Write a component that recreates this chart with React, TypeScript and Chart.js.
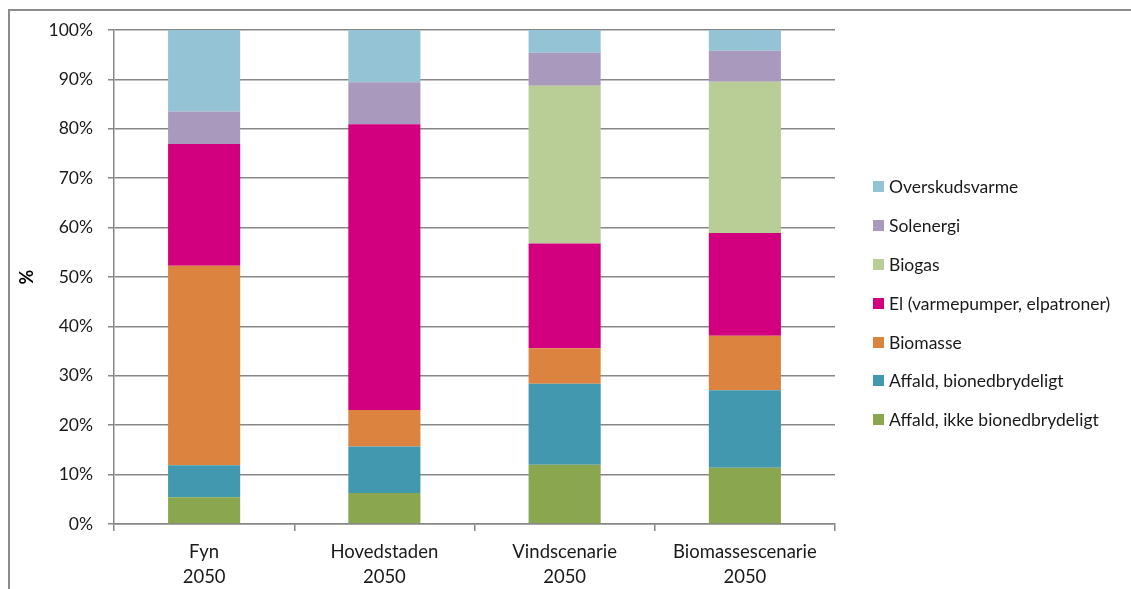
import React, { useEffect, useRef } from "react";
import { Chart, registerables } from "chart.js";

Chart.register(...registerables);

const categories: string[][] = [
  ["Fyn", "2050"],
  ["Hovedstaden", "2050"],
  ["Vindscenarie", "2050"],
  ["Biomassescenarie", "2050"],
];

const affaldIkkeBio = [5.4, 6.3, 12.0, 11.4];
const affaldBio = [6.5, 9.4, 16.4, 15.7];
const biomasse = [40.4, 7.4, 7.2, 11.0];
const el = [24.6, 57.8, 21.2, 20.8];
const biogas = [0, 0, 31.9, 30.6];
const solenergi = [6.6, 8.5, 6.7, 6.3];
const overskudsvarme = [16.5, 10.6, 4.6, 4.2];

const yTicks = [0, 10, 20, 30, 40, 50, 60, 70, 80, 90, 100];

const seriesList = [
  { label: "Affald, ikke bionedbrydeligt", data: affaldIkkeBio, color: "#8AA64E" },
  { label: "Affald, bionedbrydeligt", data: affaldBio, color: "#4298AF" },
  { label: "Biomasse", data: biomasse, color: "#DC8340" },
  { label: "El (varmepumper, elpatroner)", data: el, color: "#D2007E" },
  { label: "Biogas", data: biogas, color: "#B9CD96" },
  { label: "Solenergi", data: solenergi, color: "#A99ABD" },
  { label: "Overskudsvarme", data: overskudsvarme, color: "#93C3D5" },
];

const FONT = "Lato, 'Open Sans', sans-serif";
const GRID = "#878787";

export default function App() {
  const ref = useRef<HTMLCanvasElement | null>(null);

  useEffect(() => {
    if (!ref.current) return;
    const chart = new Chart(ref.current, {
      type: "bar",
      data: {
        labels: categories,
        datasets: seriesList.map((s) => ({
          label: s.label,
          data: s.data,
          backgroundColor: s.color,
          borderWidth: 0,
          categoryPercentage: 1,
          barPercentage: 0.4,
        })),
      },
      options: {
        responsive: false,
        animation: false,
        devicePixelRatio: 1,
        layout: { padding: { left: 0, top: 30, right: 296, bottom: 0 } },
        plugins: { legend: { display: false }, tooltip: { enabled: false } },
        scales: {
          x: {
            stacked: true,
            grid: {
              display: true,
              drawOnChartArea: false,
              drawTicks: true,
              tickLength: 7,
              color: GRID,
              lineWidth: 1.5,
              offset: true,
            },
            border: { display: true, color: GRID, width: 1.5 },
            ticks: {
              color: "#1a1a1a",
              padding: 9,
              maxRotation: 0,
              autoSkip: false,
              font: { family: FONT, size: 18.5, lineHeight: 1.33 },
            },
            afterFit: (scale: any) => {
              scale.height = 65;
            },
          },
          y: {
            stacked: true,
            min: 0,
            max: 100,
            afterBuildTicks: (scale: any) => {
              scale.ticks = yTicks.map((v) => ({ value: v }));
            },
            grid: {
              color: GRID,
              lineWidth: 1.5,
              tickLength: 6,
              drawTicks: true,
            },
            border: { display: true, color: GRID, width: 1.5 },
            ticks: {
              color: "#1a1a1a",
              padding: 15,
              font: { family: FONT, size: 17.5 },
              callback: (v: any) => v + "%",
            },
            title: {
              display: true,
              text: "%",
              color: "#000",
              font: { family: FONT, size: 18, weight: "bold" },
              padding: { top: 16, bottom: 0 },
            },
            afterFit: (scale: any) => {
              scale.width = 114;
            },
          },
        },
      },
    });
    return () => chart.destroy();
  }, []);

  const legendItems = [...seriesList].reverse();

  return (
    <div
      style={{
        position: "fixed",
        left: 0,
        top: 0,
        width: 1131,
        height: 589,
        overflow: "hidden",
        background: "#fff",
      }}
    >
      <canvas ref={ref} width={1131} height={589} style={{ position: "absolute", left: 0, top: 0 }} />
      <div
        style={{
          position: "absolute",
          left: 8,
          top: 9,
          width: 1200,
          height: 700,
          borderLeft: "2px solid #8c8c8c",
          borderTop: "2px solid #8c8c8c",
          pointerEvents: "none",
        }}
      />
      <div
        style={{
          position: "absolute",
          left: 873,
          top: 167.6,
          fontFamily: FONT,
          fontSize: 17.5,
          color: "#1a1a1a",
        }}
      >
        {legendItems.map((s) => (
          <div
            key={s.label}
            style={{ height: 38.8, display: "flex", alignItems: "center", whiteSpace: "nowrap" }}
          >
            <span
              style={{
                display: "inline-block",
                width: 11,
                height: 11,
                background: s.color,
                marginRight: 5,
              }}
            />
            <span>{s.label}</span>
          </div>
        ))}
      </div>
    </div>
  );
}
